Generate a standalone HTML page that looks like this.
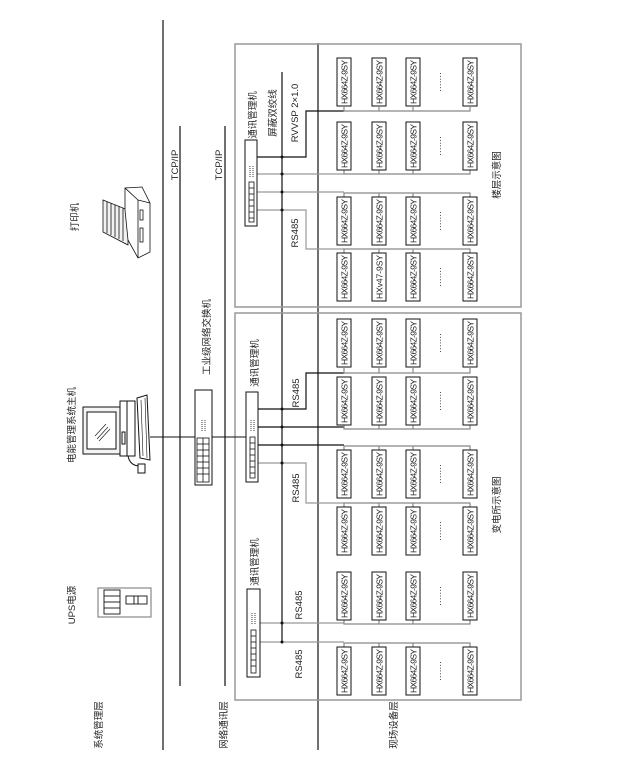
<!DOCTYPE html>
<html><head><meta charset="utf-8"><style>
html,body{margin:0;padding:0;background:#fff}
svg{display:block}
text{font-family:"Liberation Sans","Noto Sans CJK SC",sans-serif;fill:#222}
.d{font-size:8.5px}
.l{font-size:9.5px}
</style></head><body>
<svg width="625" height="784" viewBox="0 0 625 784" xmlns="http://www.w3.org/2000/svg">
<defs>
<g id="dev"><rect x="0" y="0" width="14" height="48" fill="#fff" stroke="#111" stroke-width="1"/></g>
</defs>
<!-- layer lines -->
<g stroke="#111" stroke-width="1.2">
<line x1="163" y1="20" x2="163" y2="750"/>
<line x1="180" y1="126" x2="180" y2="686"/>
<line x1="225" y1="126" x2="225" y2="686"/>
<line x1="318" y1="43" x2="318" y2="750"/>
<line x1="282" y1="72" x2="282" y2="642"/>
</g>
<!-- gray boxes -->
<rect x="235" y="44" width="286" height="263" fill="none" stroke="#999" stroke-width="1.5"/>
<rect x="235" y="313" width="286" height="387" fill="none" stroke="#999" stroke-width="1.5"/>

<!-- wires: comm to devices -->
<g fill="none" stroke-width="1.2">
<path d="M256 157 H306 V111 H344" stroke="#111"/>
<path d="M256 174 H344" stroke="#999"/>
<path d="M256 192 H344" stroke="#999"/>
<path d="M256 210 H306 V249 H344" stroke="#999"/>
<path d="M258 409 H306 V373 H344" stroke="#111"/>
<path d="M258 427 H344" stroke="#111"/>
<path d="M258 445 H344" stroke="#111"/>
<path d="M258 463 H306 V503 H344" stroke="#999"/>
<path d="M260 623 H344" stroke="#999"/>
<path d="M260 642 H344" stroke="#999"/>
</g>
<!-- row bus lines -->
<g fill="none" stroke="#888" stroke-width="1.2">
<path d="M344 107 V111 H470 V107 M379 107V111 M413 107V111"/>
<path d="M344 170 V174 H470 V170 M379 170V174 M413 170V174"/>
<path d="M344 197 V193 H470 V197 M379 197V193 M413 197V193"/>
<path d="M344 253 V249 H470 V253 M379 253V249 M413 253V249"/>
<path d="M344 368 V373 H470 V368 M379 368V373 M413 368V373"/>
<path d="M344 425 V429 H470 V425 M379 425V429 M413 425V429"/>
<path d="M344 450 V446 H470 V450 M379 450V446 M413 450V446"/>
<path d="M344 507 V503 H470 V507 M379 507V503 M413 507V503"/>
<path d="M344 620 V624 H470 V620 M379 620V624 M413 620V624"/>
<path d="M344 647 V643 H470 V647 M379 647V643 M413 647V643"/>
</g>
<!-- dots on bus -->
<g fill="#111">
<circle cx="282" cy="157" r="1.5"/><circle cx="282" cy="174" r="1.5"/><circle cx="282" cy="192" r="1.5"/><circle cx="282" cy="210" r="1.5"/>
<circle cx="282" cy="409" r="1.5"/><circle cx="282" cy="427" r="1.5"/><circle cx="282" cy="445" r="1.5"/><circle cx="282" cy="463" r="1.5"/>
<circle cx="282" cy="623" r="1.5"/><circle cx="282" cy="642" r="1.5"/>
</g>

<!-- devices -->
<g>
<use href="#dev" x="337" y="58"/><use href="#dev" x="372" y="58"/><use href="#dev" x="406" y="58"/><use href="#dev" x="463" y="58"/>
<use href="#dev" x="337" y="122"/><use href="#dev" x="372" y="122"/><use href="#dev" x="406" y="122"/><use href="#dev" x="463" y="122"/>
<use href="#dev" x="337" y="197"/><use href="#dev" x="372" y="197"/><use href="#dev" x="406" y="197"/><use href="#dev" x="463" y="197"/>
<use href="#dev" x="337" y="253"/><use href="#dev" x="372" y="253"/><use href="#dev" x="406" y="253"/><use href="#dev" x="463" y="253"/>
<use href="#dev" x="337" y="319"/><use href="#dev" x="372" y="319"/><use href="#dev" x="406" y="319"/><use href="#dev" x="463" y="319"/>
<use href="#dev" x="337" y="377"/><use href="#dev" x="372" y="377"/><use href="#dev" x="406" y="377"/><use href="#dev" x="463" y="377"/>
<use href="#dev" x="337" y="450"/><use href="#dev" x="372" y="450"/><use href="#dev" x="406" y="450"/><use href="#dev" x="463" y="450"/>
<use href="#dev" x="337" y="507"/><use href="#dev" x="372" y="507"/><use href="#dev" x="406" y="507"/><use href="#dev" x="463" y="507"/>
<use href="#dev" x="337" y="572"/><use href="#dev" x="372" y="572"/><use href="#dev" x="406" y="572"/><use href="#dev" x="463" y="572"/>
<use href="#dev" x="337" y="647"/><use href="#dev" x="372" y="647"/><use href="#dev" x="406" y="647"/><use href="#dev" x="463" y="647"/>
</g>
<g class="d">
<text transform="translate(347.5,82) rotate(-90)" text-anchor="middle" textLength="44">HX664Z-9SY</text>
<text transform="translate(382.5,82) rotate(-90)" text-anchor="middle" textLength="44">HX664Z-9SY</text>
<text transform="translate(416.5,82) rotate(-90)" text-anchor="middle" textLength="44">HX664Z-9SY</text>
<text transform="translate(473.5,82) rotate(-90)" text-anchor="middle" textLength="44">HX664Z-9SY</text>
<text transform="translate(347.5,146) rotate(-90)" text-anchor="middle" textLength="44">HX664Z-9SY</text>
<text transform="translate(382.5,146) rotate(-90)" text-anchor="middle" textLength="44">HX664Z-9SY</text>
<text transform="translate(416.5,146) rotate(-90)" text-anchor="middle" textLength="44">HX664Z-9SY</text>
<text transform="translate(473.5,146) rotate(-90)" text-anchor="middle" textLength="44">HX664Z-9SY</text>
<text transform="translate(347.5,221) rotate(-90)" text-anchor="middle" textLength="44">HX664Z-9SY</text>
<text transform="translate(382.5,221) rotate(-90)" text-anchor="middle" textLength="44">HX664Z-9SY</text>
<text transform="translate(416.5,221) rotate(-90)" text-anchor="middle" textLength="44">HX664Z-9SY</text>
<text transform="translate(473.5,221) rotate(-90)" text-anchor="middle" textLength="44">HX664Z-9SY</text>
<text transform="translate(347.5,277) rotate(-90)" text-anchor="middle" textLength="44">HX664Z-9SY</text>
<text transform="translate(382.5,277) rotate(-90)" text-anchor="middle" textLength="44">HXv47-9SY</text>
<text transform="translate(416.5,277) rotate(-90)" text-anchor="middle" textLength="44">HX664Z-9SY</text>
<text transform="translate(473.5,277) rotate(-90)" text-anchor="middle" textLength="44">HX664Z-9SY</text>
<text transform="translate(347.5,343) rotate(-90)" text-anchor="middle" textLength="44">HX664Z-9SY</text>
<text transform="translate(382.5,343) rotate(-90)" text-anchor="middle" textLength="44">HX664Z-9SY</text>
<text transform="translate(416.5,343) rotate(-90)" text-anchor="middle" textLength="44">HX664Z-9SY</text>
<text transform="translate(473.5,343) rotate(-90)" text-anchor="middle" textLength="44">HX664Z-9SY</text>
<text transform="translate(347.5,401) rotate(-90)" text-anchor="middle" textLength="44">HX664Z-9SY</text>
<text transform="translate(382.5,401) rotate(-90)" text-anchor="middle" textLength="44">HX664Z-9SY</text>
<text transform="translate(416.5,401) rotate(-90)" text-anchor="middle" textLength="44">HX664Z-9SY</text>
<text transform="translate(473.5,401) rotate(-90)" text-anchor="middle" textLength="44">HX664Z-9SY</text>
<text transform="translate(347.5,474) rotate(-90)" text-anchor="middle" textLength="44">HX664Z-9SY</text>
<text transform="translate(382.5,474) rotate(-90)" text-anchor="middle" textLength="44">HX664Z-9SY</text>
<text transform="translate(416.5,474) rotate(-90)" text-anchor="middle" textLength="44">HX664Z-9SY</text>
<text transform="translate(473.5,474) rotate(-90)" text-anchor="middle" textLength="44">HX664Z-9SY</text>
<text transform="translate(347.5,531) rotate(-90)" text-anchor="middle" textLength="44">HX664Z-9SY</text>
<text transform="translate(382.5,531) rotate(-90)" text-anchor="middle" textLength="44">HX664Z-9SY</text>
<text transform="translate(416.5,531) rotate(-90)" text-anchor="middle" textLength="44">HX664Z-9SY</text>
<text transform="translate(473.5,531) rotate(-90)" text-anchor="middle" textLength="44">HX664Z-9SY</text>
<text transform="translate(347.5,596) rotate(-90)" text-anchor="middle" textLength="44">HX664Z-9SY</text>
<text transform="translate(382.5,596) rotate(-90)" text-anchor="middle" textLength="44">HX664Z-9SY</text>
<text transform="translate(416.5,596) rotate(-90)" text-anchor="middle" textLength="44">HX664Z-9SY</text>
<text transform="translate(473.5,596) rotate(-90)" text-anchor="middle" textLength="44">HX664Z-9SY</text>
<text transform="translate(347.5,671) rotate(-90)" text-anchor="middle" textLength="44">HX664Z-9SY</text>
<text transform="translate(382.5,671) rotate(-90)" text-anchor="middle" textLength="44">HX664Z-9SY</text>
<text transform="translate(416.5,671) rotate(-90)" text-anchor="middle" textLength="44">HX664Z-9SY</text>
<text transform="translate(473.5,671) rotate(-90)" text-anchor="middle" textLength="44">HX664Z-9SY</text>
</g>
<g class="d">
<text transform="translate(443,82) rotate(-90)" text-anchor="middle">·······</text>
<text transform="translate(443,146) rotate(-90)" text-anchor="middle">·······</text>
<text transform="translate(443,221) rotate(-90)" text-anchor="middle">·······</text>
<text transform="translate(443,277) rotate(-90)" text-anchor="middle">·······</text>
<text transform="translate(443,343) rotate(-90)" text-anchor="middle">·······</text>
<text transform="translate(443,401) rotate(-90)" text-anchor="middle">·······</text>
<text transform="translate(443,474) rotate(-90)" text-anchor="middle">·······</text>
<text transform="translate(443,531) rotate(-90)" text-anchor="middle">·······</text>
<text transform="translate(443,596) rotate(-90)" text-anchor="middle">·······</text>
<text transform="translate(443,671) rotate(-90)" text-anchor="middle">·······</text>
</g>

<!-- comm managers -->
<g stroke="#111" fill="#fff" stroke-width="1">
<rect x="245" y="140" width="12" height="86"/>
<rect x="246" y="392" width="12" height="90"/>
<rect x="247" y="589" width="13" height="88"/>
</g>
<g fill="none" stroke="#111" stroke-width="0.8">
<rect x="249" y="182" width="5" height="40"/><line x1="249" y1="188" x2="254" y2="188"/><line x1="249" y1="194" x2="254" y2="194"/><line x1="249" y1="200" x2="254" y2="200"/><line x1="249" y1="206" x2="254" y2="206"/><line x1="249" y1="212" x2="254" y2="212"/><line x1="249" y1="218" x2="254" y2="218"/>
<path d="M250 166V178 M253 166V178" stroke-dasharray="1 1"/>
<rect x="250" y="437" width="5" height="41"/><line x1="250" y1="443" x2="255" y2="443"/><line x1="250" y1="449" x2="255" y2="449"/><line x1="250" y1="455" x2="255" y2="455"/><line x1="250" y1="461" x2="255" y2="461"/><line x1="250" y1="467" x2="255" y2="467"/><line x1="250" y1="473" x2="255" y2="473"/>
<path d="M251 420V432 M254 420V432" stroke-dasharray="1 1"/>
<rect x="251" y="630" width="5" height="43"/><line x1="251" y1="636" x2="256" y2="636"/><line x1="251" y1="642" x2="256" y2="642"/><line x1="251" y1="648" x2="256" y2="648"/><line x1="251" y1="654" x2="256" y2="654"/><line x1="251" y1="660" x2="256" y2="660"/><line x1="251" y1="666" x2="256" y2="666"/>
<path d="M252 613V625 M255 613V625" stroke-dasharray="1 1"/>
</g>

<!-- switch -->
<rect x="195" y="390" width="17" height="95" fill="#fff" stroke="#111"/>
<g fill="none" stroke="#111" stroke-width="0.8">
<rect x="197" y="438" width="12" height="44"/><line x1="203" y1="438" x2="203" y2="482"/>
<line x1="197" y1="444" x2="209" y2="444"/><line x1="197" y1="450" x2="209" y2="450"/><line x1="197" y1="456" x2="209" y2="456"/><line x1="197" y1="462" x2="209" y2="462"/><line x1="197" y1="468" x2="209" y2="468"/><line x1="197" y1="474" x2="209" y2="474"/>
<path d="M202 420V432 M205 420V432" stroke-dasharray="1 1"/>
</g>
<line x1="150" y1="437" x2="195" y2="437" stroke="#111"/>
<line x1="212" y1="437" x2="246" y2="437" stroke="#111"/>

<!-- PC -->
<g fill="none" stroke="#111" stroke-width="1">
<rect x="83" y="407" width="37" height="47" fill="#f4f4f4"/>
<rect x="87" y="412" width="29" height="37" fill="#fff"/>
<path d="M95 436 L106 424 M97 439 L108 427 M99 441 L110 429" stroke-width="0.6"/>
<rect x="120" y="401" width="15" height="55" fill="#fff"/>
<line x1="127" y1="401" x2="127" y2="456"/>
<rect x="122" y="432" width="3" height="12"/>
<path d="M137 398 L147 395 L150 460 L140 458 Z" fill="#fff"/>
<path d="M141 400 L143 456 M145 398 L147 458" stroke-width="0.6"/>
<path d="M128 456 Q130 466 140 466"/>
<rect x="138" y="464" width="7" height="9" fill="#fff"/>
</g>

<!-- printer -->
<g fill="none" stroke="#111" stroke-width="0.8">
<path d="M103 200 L128 210 L128 245 L103 232 Z" fill="#f2f2f2"/>
<path d="M107 202V233 M111 203V235 M115 205V237 M119 206V239 M123 208V241"/>
<path d="M125 188 L142 187 L150 203 L150 252 L138 258 L128 240 L125 210 Z" fill="#fff"/>
<path d="M138 200 L150 203 M138 200 L138 258 M125 188 L138 200"/>
<rect x="140" y="210" width="3" height="10"/><rect x="140" y="228" width="3" height="14"/>
</g>

<!-- UPS -->
<g fill="none" stroke="#111" stroke-width="0.9">
<rect x="98" y="588" width="53" height="29" stroke="#888" stroke-width="1.2"/>
<rect x="104" y="590" width="16" height="24"/>
<line x1="104" y1="596" x2="120" y2="596"/><line x1="104" y1="602" x2="120" y2="602"/><line x1="104" y1="608" x2="120" y2="608"/>
<rect x="126" y="596" width="21" height="8"/>
<line x1="134" y1="596" x2="134" y2="604"/><line x1="138" y1="596" x2="138" y2="604"/>
</g>

<!-- labels -->
<g class="l">
<text transform="translate(102,725) rotate(-90)" text-anchor="middle">系统管理层</text>
<text transform="translate(227,725) rotate(-90)" text-anchor="middle">网络通讯层</text>
<text transform="translate(397,725) rotate(-90)" text-anchor="middle">现场设备层</text>
<text transform="translate(75,605) rotate(-90)" text-anchor="middle">UPS电源</text>
<text transform="translate(75,425) rotate(-90)" text-anchor="middle">电能管理系统主机</text>
<text transform="translate(78,217) rotate(-90)" text-anchor="middle">打印机</text>
<text transform="translate(178,165) rotate(-90)" text-anchor="middle">TCP/IP</text>
<text transform="translate(222,165) rotate(-90)" text-anchor="middle">TCP/IP</text>
<text transform="translate(210,337) rotate(-90)" text-anchor="middle">工业级网络交换机</text>
<text transform="translate(256,115) rotate(-90)" text-anchor="middle">通讯管理机</text>
<text transform="translate(276,113) rotate(-90)" text-anchor="middle">屏蔽双绞线</text>
<text transform="translate(298,113) rotate(-90)" text-anchor="middle">RVVSP 2×1.0</text>
<text transform="translate(298,233) rotate(-90)" text-anchor="middle">RS485</text>
<text transform="translate(258,363) rotate(-90)" text-anchor="middle">通讯管理机</text>
<text transform="translate(299,393) rotate(-90)" text-anchor="middle">RS485</text>
<text transform="translate(299,488) rotate(-90)" text-anchor="middle">RS485</text>
<text transform="translate(258,562) rotate(-90)" text-anchor="middle">通讯管理机</text>
<text transform="translate(302,605) rotate(-90)" text-anchor="middle">RS485</text>
<text transform="translate(302,664) rotate(-90)" text-anchor="middle">RS485</text>
<text transform="translate(500,175) rotate(-90)" text-anchor="middle">楼层示意图</text>
<text transform="translate(500,505) rotate(-90)" text-anchor="middle">变电所示意图</text>
</g>
</svg>
</body></html>
